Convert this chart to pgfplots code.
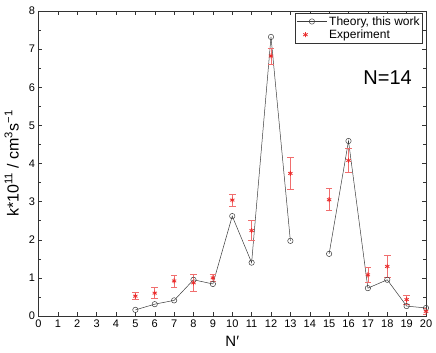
\documentclass[border=0pt]{standalone}
\usepackage{fontspec}
\setmainfont{Liberation Sans}
\usepackage{pgfplots}
\pgfplotsset{compat=1.18}

\definecolor{theo}{RGB}{60,60,60}
\definecolor{expred}{RGB}{235,45,45}
\definecolor{errred}{RGB}{240,110,110}

\pgfplotsset{theolegend/.style={legend image code/.code={%
  \draw[mark repeat=2,mark phase=2,##1] plot coordinates {(0pt,0pt) (15pt,0pt) (30pt,0pt)};}}}

\begin{document}
\begin{tikzpicture}
\begin{axis}[
    name=ax,
    scale only axis,
    width=387.5pt, height=305pt,
    xmin=0, xmax=20, ymin=0, ymax=8,
    xtick={0,...,20}, ytick={0,...,8},
    minor y tick num=1,
    tick align=inside,
    major tick length=4pt, minor tick length=3pt,
    axis line style={black!80},
    every tick/.style={black!80},
    tick label style={font=\fontsize{11}{13}\selectfont},
    /pgf/number format/assume math mode=true,
    xlabel={N′},
    ylabel={k*10\textsuperscript{11} / cm\textsuperscript{3}s\textsuperscript{−1}},
    xlabel style={font=\fontsize{15}{17}\selectfont, at={(axis description cs:0.5,-0.1007)}, anchor=base},
    ylabel style={font=\fontsize{16}{18}\selectfont, at={(axis description cs:-0.069,0.5)}, anchor=center},
    unbounded coords=jump,
    legend style={at={(rel axis cs:0.992,0.993)}, anchor=north east,
        draw=black!80, line width=0.5pt, font=\fontsize{12}{14}\selectfont,
        cells={anchor=west}, inner sep=1pt, row sep=-1pt},
    legend cell align=left,
]
\addplot[color=theo, line width=0.5pt, mark=o, mark size=2.7pt, theolegend]
  coordinates {
    (5,0.16) (6,0.31) (7,0.41) (8,0.95) (9,0.84) (10,2.62) (11,1.40)
    (12,7.32) (13,1.97) (14,nan) (15,1.63) (16,4.59) (17,0.73) (18,0.95)
    (19,0.26) (20,0.21)
  };
\addlegendentry{Theory, this work}
\addplot[only marks, color=expred, mark=asterisk, mark size=2.5pt,
    mark options={line width=0.8pt},
    error bars/.cd, y dir=both, y explicit,
    error bar style={color=errred, line width=0.6pt},
    error mark options={rotate=90, color=errred, mark size=3.3pt, line width=0.6pt}]
  coordinates {
    (5,0.52) +- (0,0.09)
    (6,0.60) +- (0,0.14)
    (7,0.92) +- (0,0.16)
    (8,0.87) +- (0,0.22)
    (9,1.00) +- (0,0.10)
    (10,3.04) +- (0,0.15)
    (11,2.24) +- (0,0.26)
    (12,6.82) +- (0,0.21)
    (13,3.74) +- (0,0.43)
    (15,3.05) +- (0,0.29)
    (16,4.08) +- (0,0.31)
    (17,1.08) +- (0,0.19)
    (18,1.30) +- (0,0.28)
    (19,0.43) +- (0,0.12)
    (20,0.12) +- (0,0.07)
  };
\addlegendentry{Experiment}
\node[font=\fontsize{20}{22}\selectfont, anchor=center] at (axis cs:18.02,6.26) {N=14};
\end{axis}
\pgfresetboundingbox
\useasboundingbox ([shift={(-38.5pt,-37pt)}]ax.south west) rectangle ([shift={(10pt,11pt)}]ax.north east);
\end{tikzpicture}
\end{document}
